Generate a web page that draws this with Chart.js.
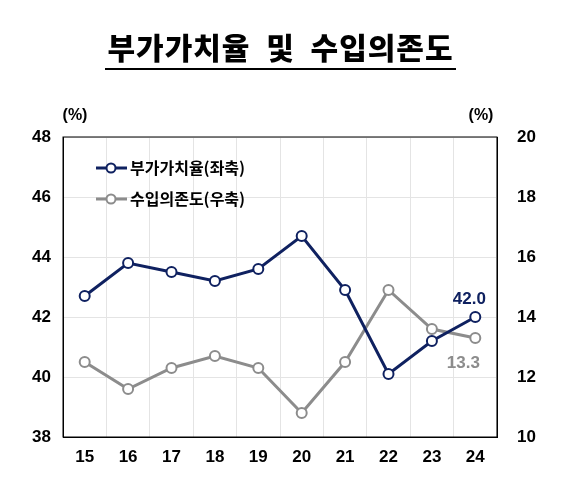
<!DOCTYPE html>
<html><head><meta charset="utf-8">
<script src="https://cdn.jsdelivr.net/npm/chart.js@4"></script>
<style>body{margin:0;background:#fff;font-family:"Noto Sans CJK KR",sans-serif}
#t{position:absolute;left:0;top:24px;width:561px;text-align:center;font-size:30px;font-weight:900;z-index:2;letter-spacing:1px}
#t span{border-bottom:2px solid #000;padding:0 2px}
#w{position:absolute;left:0;top:0;width:561px;height:502px}</style></head>
<body><div id="t"><span>부가가치율&nbsp; 및&nbsp; 수입의존도</span></div>
<div id="w"><canvas id="c"></canvas></div>
<script>
const categories=["15","16","17","18","19","20","21","22","23","24"];
const valueAdded=[42.7,43.8,43.5,43.2,43.6,44.7,42.9,40.1,41.2,42.0];
const importDep=[12.5,11.6,12.3,12.7,12.3,10.8,12.5,14.9,13.6,13.3];
const leftTicks=[38,40,42,44,46,48];
const rightTicks=[10,12,14,16,18,20];
const navy="#0f2160", grey="#8c8c8c";
const lf={size:17,weight:"bold",family:"Liberation Sans"};
const extras={id:"ex",afterDatasetsDraw(ch){const c=ch.ctx,a=ch.chartArea;c.save();
 c.strokeStyle="#000";c.lineWidth=1;c.strokeRect(a.left,a.top,a.right-a.left,a.bottom-a.top);
 c.font="bold 17px 'Liberation Sans',Arial";c.textAlign="center";c.textBaseline="alphabetic";
 let m=ch.getDatasetMeta(0).data[9];c.fillStyle=navy;c.fillText(valueAdded[9].toFixed(1),m.x-6,m.y-13);
 m=ch.getDatasetMeta(1).data[9];c.fillStyle=grey;c.fillText(importDep[9].toFixed(1),m.x-12,m.y+30);
 c.font="bold 16px 'Liberation Sans',Arial";c.fillStyle="#000";
 c.fillText("(%)",a.left+12,a.top-17);c.fillText("(%)",a.right-16,a.top-17);
 const items=[[navy,"부가가치율(좌축)",168],[grey,"수입의존도(우축)",199]];
 c.textAlign="left";c.textBaseline="middle";c.font="bold 16px 'Noto Sans CJK KR'";
 for(const [col,txt,y] of items){c.strokeStyle=col;c.lineWidth=3;c.beginPath();c.moveTo(96,y);c.lineTo(127,y);c.stroke();
  c.beginPath();c.arc(111,y,4.5,0,Math.PI*2);c.fillStyle="#fff";c.fill();c.lineWidth=2;c.stroke();
  c.fillStyle="#000";c.fillText(txt,130,y);}
 c.restore();}};
new Chart(document.getElementById("c"),{type:"line",data:{labels:categories,datasets:[
{label:"부가가치율(좌축)",data:valueAdded,yAxisID:"y",borderColor:navy,borderWidth:3,pointRadius:5,pointBorderWidth:2,pointBackgroundColor:"#fff",pointBorderColor:navy,tension:0},
{label:"수입의존도(우축)",data:importDep,yAxisID:"y1",borderColor:grey,borderWidth:3,pointRadius:5,pointBorderWidth:2,pointBackgroundColor:"#fff",pointBorderColor:grey,tension:0}]},
options:{responsive:true,maintainAspectRatio:false,animation:false,layout:{padding:{left:0,right:0,top:137,bottom:0}},
plugins:{legend:{display:false},tooltip:{enabled:false}},
scales:{x:{offset:true,afterFit(s){s.height=65;},grid:{offset:true,color:"#e4e4e4",drawTicks:false},border:{color:"#000"},ticks:{color:"#000",padding:10,font:lf}},
y:{position:"left",min:38,max:48,afterFit(s){s.width=63;},afterBuildTicks(s){s.ticks=leftTicks.map(v=>({value:v}));},grid:{color:"#e4e4e4",drawTicks:false},border:{color:"#000"},ticks:{color:"#000",padding:12,font:lf}},
y1:{position:"right",min:10,max:20,afterFit(s){s.width=64;},afterBuildTicks(s){s.ticks=rightTicks.map(v=>({value:v}));},grid:{display:false},border:{color:"#000"},ticks:{color:"#000",padding:12,font:lf}}}},
plugins:[extras]});
</script></body></html>
